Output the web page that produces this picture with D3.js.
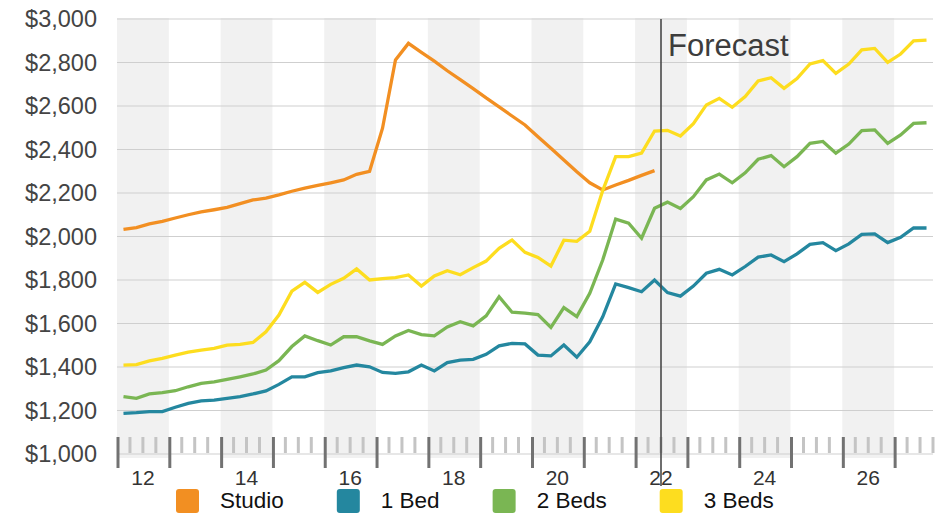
<!DOCTYPE html>
<html>
<head>
<meta charset="utf-8">
<script src="https://cdn.jsdelivr.net/npm/d3@7"></script>
<style>
  body { margin: 0; background: #fff; }
  text { font-family: "Liberation Sans", Arial, Helvetica, sans-serif; }
</style>
</head>
<body>
<div id="chart"></div>
<script>
// quarterly rents, first point is 2012 Q1
const firstYear = 2012;
const yearTicks = d3.range(2012, 2028);
const yearLabels = ["12", "14", "16", "18", "20", "22", "24", "26"];
const yTicks = [1000, 1200, 1400, 1600, 1800, 2000, 2200, 2400, 2600, 2800, 3000];
const forecastStart = 2022.5;

const studio = [2033, 2041, 2058, 2070, 2085, 2100, 2113, 2123, 2134, 2151,
  2168, 2176, 2191, 2208, 2222, 2235, 2247, 2260, 2286, 2300,
  2498, 2812, 2888, 2847, 2806, 2762, 2721, 2680, 2637, 2596,
  2554, 2513, 2459, 2406, 2352, 2298, 2247, 2214, 2237, 2258,
  2281, 2303];

const oneBed = [1187, 1190, 1195, 1195, 1215, 1233, 1244, 1248, 1256, 1264,
  1276, 1290, 1320, 1355, 1355, 1374, 1382, 1397, 1409, 1401,
  1375, 1371, 1378, 1409, 1382, 1420, 1432, 1435, 1458, 1497,
  1509, 1506, 1455, 1451, 1501, 1445, 1516, 1631, 1782, 1765,
  1746, 1800, 1742, 1726, 1772, 1831, 1849, 1823, 1862, 1905,
  1915, 1884, 1920, 1964, 1972, 1935, 1966, 2010, 2012, 1972,
  1996, 2039, 2039];

const twoBeds = [1264, 1256, 1276, 1282, 1291, 1309, 1325, 1332, 1343, 1355,
  1368, 1386, 1429, 1494, 1543, 1521, 1501, 1539, 1539, 1520,
  1504, 1543, 1568, 1549, 1543, 1584, 1608, 1589, 1635, 1723,
  1652, 1648, 1641, 1582, 1673, 1632, 1739, 1892, 2080, 2061,
  1992, 2130, 2158, 2129, 2183, 2260, 2287, 2247, 2293, 2355,
  2372, 2321, 2367, 2428, 2437, 2383, 2425, 2487, 2490, 2428,
  2467, 2520, 2523];

const threeBeds = [1409, 1411, 1428, 1440, 1455, 1468, 1478, 1486, 1501, 1504,
  1513, 1562, 1639, 1749, 1789, 1743, 1780, 1808, 1851, 1800,
  1806, 1811, 1823, 1772, 1819, 1843, 1824, 1857, 1887, 1946,
  1984, 1927, 1904, 1864, 1983, 1978, 2024, 2211, 2367, 2367,
  2383, 2485, 2488, 2462, 2519, 2605, 2635, 2594, 2643, 2715,
  2730, 2681, 2726, 2793, 2809, 2750, 2793, 2858, 2865, 2801,
  2839, 2900, 2903];

const seriesNames = ["Studio", "1 Bed", "2 Beds", "3 Beds"];
const seriesColors = ["#f28f22", "#24879f", "#7ab653", "#fddd1f"];
const series = [studio, oneBed, twoBeds, threeBeds];

const width = 943, height = 515;
const plotLeft = 117, plotRight = 933, plotTop = 19, plotBottom = 454;

const svg = d3.select("#chart").append("svg")
  .attr("width", width)
  .attr("height", height);

const x = d3.scaleLinear().domain([firstYear, 2027.75]).range([plotLeft, plotRight]);
const y = d3.scaleLinear().domain([1000, 3000]).range([plotBottom, plotTop]);

// year bands (even years shaded)
svg.append("g")
  .selectAll("rect")
  .data(yearTicks.filter(d => d % 2 === 0))
  .enter()
  .append("rect")
  .attr("x", d => x(d))
  .attr("y", plotTop - 1)
  .attr("width", d => x(Math.min(d + 1, 2027.75)) - x(d))
  .attr("height", plotBottom - plotTop + 5)
  .style("fill", "#f1f1f1");

// gridlines
svg.append("g")
  .selectAll("line")
  .data(yTicks)
  .enter()
  .append("line")
  .attr("x1", plotLeft)
  .attr("x2", plotRight)
  .attr("y1", d => y(d))
  .attr("y2", d => y(d))
  .style("stroke", "#cfcfcf")
  .style("stroke-width", 1.2);

// y labels
svg.append("g")
  .selectAll("text")
  .data(yTicks)
  .enter()
  .append("text")
  .attr("x", 97)
  .attr("y", d => y(d))
  .attr("dy", "0.36em")
  .attr("text-anchor", "end")
  .style("font-size", "23.5px")
  .style("fill", "#444")
  .text(d => d3.format("$,")(d));

// minor (quarter) ticks
const minorTicks = d3.range(firstYear * 4, 2027.75 * 4 + 1)
  .map(q => q / 4)
  .filter(q => q % 1 !== 0);

svg.append("g")
  .selectAll("line")
  .data(minorTicks)
  .enter()
  .append("line")
  .attr("x1", d => x(d))
  .attr("x2", d => x(d))
  .attr("y1", plotBottom - 17)
  .attr("y2", plotBottom - 1)
  .style("stroke", "#c4c4c4")
  .style("stroke-width", 3);

// major (year) ticks
svg.append("g")
  .selectAll("line")
  .data(yearTicks)
  .enter()
  .append("line")
  .attr("x1", d => x(d) + 1)
  .attr("x2", d => x(d) + 1)
  .attr("y1", plotBottom - 17)
  .attr("y2", plotBottom + 14)
  .style("stroke", "#727272")
  .style("stroke-width", 3);

// year labels, centred in the year
svg.append("g")
  .selectAll("text")
  .data(yearLabels)
  .enter()
  .append("text")
  .attr("x", d => x(2000 + +d + 0.5))
  .attr("y", 485)
  .attr("text-anchor", "middle")
  .style("font-size", "21px")
  .style("fill", "#333")
  .text(d => d);

// lines
const line = d3.line()
  .x((d, i) => x(firstYear + (i + 0.5) / 4))
  .y(d => y(d));

svg.append("g")
  .selectAll("path")
  .data(series)
  .enter()
  .append("path")
  .attr("d", d => line(d))
  .style("fill", "none")
  .style("stroke", (d, i) => seriesColors[i])
  .style("stroke-width", 3.3)
  .style("stroke-linejoin", "miter");

// forecast marker
svg.append("line")
  .attr("x1", x(forecastStart))
  .attr("x2", x(forecastStart))
  .attr("y1", plotTop)
  .attr("y2", 486)
  .style("stroke", "#4a4a4a")
  .style("stroke-width", 1.6);

svg.append("text")
  .attr("x", x(forecastStart) + 7)
  .attr("y", 56)
  .style("font-size", "31px")
  .style("fill", "#3d3d3d")
  .text("Forecast");

// legend
const legend = svg.append("g");
let lx = 176;
seriesNames.forEach((name, i) => {
  legend.append("rect")
    .attr("x", lx)
    .attr("y", 489)
    .attr("width", 23)
    .attr("height", 24)
    .attr("rx", 3)
    .style("fill", seriesColors[i]);
  const t = legend.append("text")
    .attr("x", lx + 44)
    .attr("y", 508)
    .style("font-size", "22.5px")
    .style("fill", "#111")
    .text(name);
  lx += 44 + t.node().getComputedTextLength() + 53;
});
</script>
</body>
</html>
